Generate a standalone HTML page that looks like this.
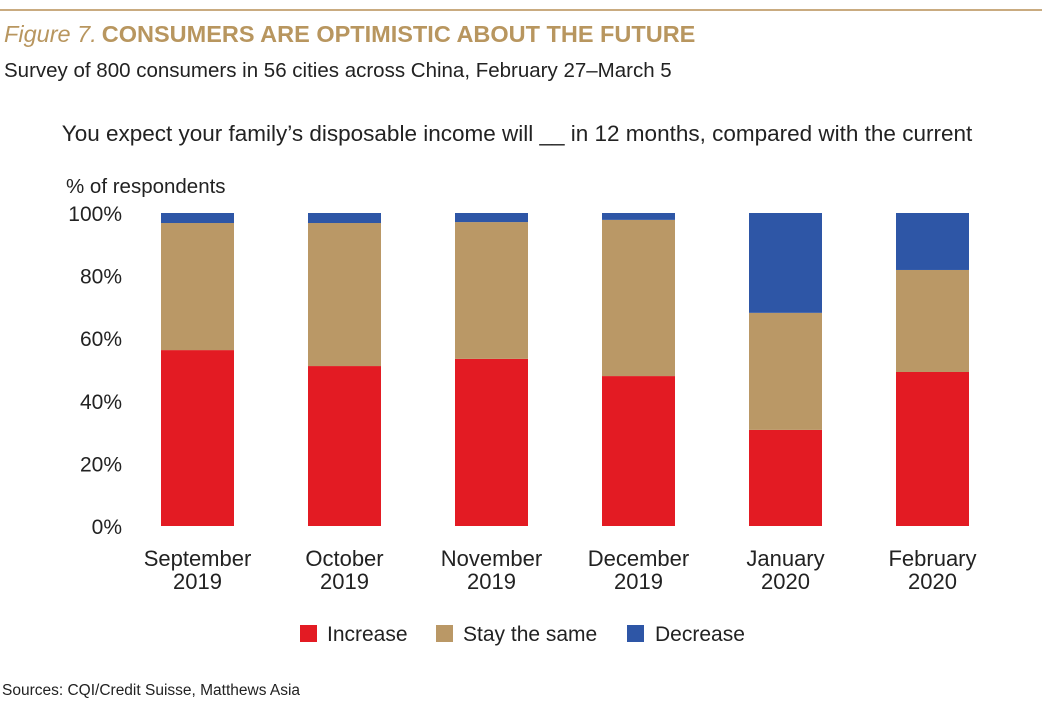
<!DOCTYPE html>
<html><head><meta charset="utf-8"><style>
body{margin:0;background:#fff;width:1042px;height:709px;overflow:hidden;font-family:"Liberation Sans",sans-serif}
</style></head><body>
<svg id="chart" width="1042" height="709" xmlns="http://www.w3.org/2000/svg" font-family="Liberation Sans, sans-serif">
<rect x="0" y="9" width="1042" height="2" fill="#c9ab80"/>
<text x="4" y="42" font-size="23.5" fill="#b8965f"><tspan font-style="italic">Figure 7.</tspan><tspan font-weight="bold" dx="5">CONSUMERS ARE OPTIMISTIC ABOUT THE FUTURE</tspan></text>
<text x="4" y="77" font-size="20.5" fill="#222">Survey of 800 consumers in 56 cities across China, February 27–March 5</text>
<text x="517" y="141" font-size="22.5" fill="#222" text-anchor="middle">You expect your family’s disposable income will __ in 12 months, compared with the current</text>
<text x="66" y="193" font-size="20.5" fill="#222">% of respondents</text>
<g id="yticks"></g>
<g id="bars"></g>
<g id="xlabels"></g>
<g>
<rect x="300" y="625" width="17" height="17" fill="#e31b23"/>
<text x="327" y="641" font-size="21" fill="#222">Increase</text>
<rect x="436" y="625" width="17" height="17" fill="#ba9866"/>
<text x="463" y="641" font-size="21" fill="#222">Stay the same</text>
<rect x="627" y="625" width="17" height="17" fill="#2e56a6"/>
<text x="655" y="641" font-size="21" fill="#222">Decrease</text>
</g>
<text x="2" y="695" font-size="15.5" fill="#222">Sources: CQI/Credit Suisse, Matthews Asia</text>
</svg>
<script>
const categories=["September|2019","October|2019","November|2019","December|2019","January|2020","February|2020"];
const increase=[56.2,51.1,53.4,47.9,30.7,49.2];
const stay=[40.6,45.7,43.7,49.9,37.4,32.6];
const decrease=[3.2,3.2,2.9,2.2,31.9,18.2];
const yTicks=[0,20,40,60,80,100];
const NS="http://www.w3.org/2000/svg";
const y0=526,yTop=213,x0=161,step=147,bw=73;
function y(v){return y0-(v/100)*(y0-yTop);}
function mk(t,a,p){const e=document.createElementNS(NS,t);for(const k in a)e.setAttribute(k,a[k]);p.appendChild(e);return e;}
const yt=document.getElementById('yticks');
yTicks.forEach(v=>{const t=mk('text',{x:122,y:y(v)+8,'font-size':21,fill:'#222','text-anchor':'end'},yt);t.textContent=v+'%';

});
const bg=document.getElementById('bars'),xl=document.getElementById('xlabels');
categories.forEach((c,i)=>{const x=x0+i*step;
const s=[[increase[i],'#e31b23','increase'],[stay[i],'#ba9866','stay'],[decrease[i],'#2e56a6','decrease']];
let cum=0;s.forEach(([v,col,n])=>{const r=mk('rect',{x:x,y:y(cum+v),width:bw,height:y(cum)-y(cum+v),fill:col},bg);

cum+=v;});
const parts=c.split('|');parts.forEach((p,j)=>{const t=mk('text',{x:x+bw/2,y:566+j*23,'font-size':22,fill:'#222','text-anchor':'middle'},xl);t.textContent=p;

});});
</script>
</body></html>
